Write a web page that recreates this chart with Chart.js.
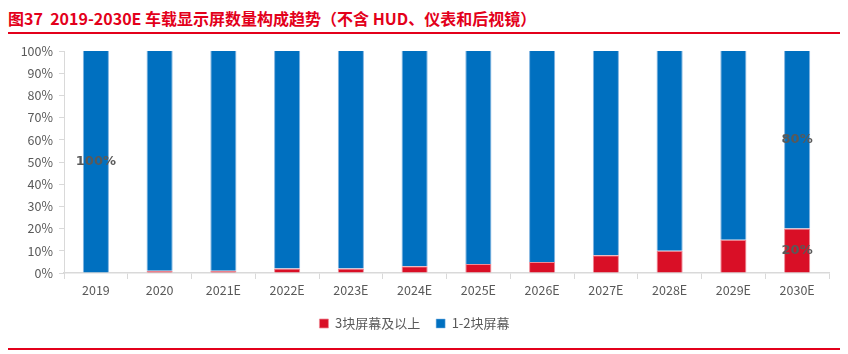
<!DOCTYPE html>
<html><head><meta charset="utf-8">
<script src="https://cdn.jsdelivr.net/npm/chart.js@4.4.0/dist/chart.umd.min.js"></script>
<style>
html,body{margin:0;padding:0;background:#fff;}
#wrap{position:relative;width:848px;height:354px;overflow:hidden;}
#title{position:absolute;left:8px;top:6px;font-family:"Noto Sans CJK SC","Liberation Sans",sans-serif;font-weight:bold;font-size:16px;color:#E3001B;white-space:nowrap;letter-spacing:0px;}
.rl{position:absolute;left:8px;width:832px;height:2px;background:#E3001B;}
canvas{position:absolute;left:0;top:0;}
</style></head><body>
<div id="wrap">
<div id="title">图37&nbsp; 2019-2030E 车载显示屏数量构成趋势（不含 HUD、仪表和后视镜）</div>
<div class="rl" style="top:32px;"></div>
<div class="rl" style="top:348px;"></div>
<canvas id="c" width="848" height="354"></canvas>
</div>
<script>
const categories = ["2019","2020","2021E","2022E","2023E","2024E","2025E","2026E","2027E","2028E","2029E","2030E"];
const share3plus = [0,1,1,2,2,3,4,5,8,10,15,20];
const share1to2 = [100,99,99,98,98,97,96,95,92,90,85,80];
const yTicks = [0,10,20,30,40,50,60,70,80,90,100];
const seriesNames = ["3块屏幕及以上","1-2块屏幕"];
// labels shown on chart: [datasetIndex, pointIndex]
const shownLabels = [[1,0],[1,11],[0,11]];

const font = "'Noto Sans CJK SC','Lato',sans-serif";
const gray = "#595959";
const axisCol = "#d9d9d9";

const labelPlugin = {
  id:'barLabels',
  afterDatasetsDraw(chart){
    const ctx = chart.ctx;
    ctx.save();
    ctx.font = "bold 13px 'DejaVu Sans', sans-serif";
    ctx.fillStyle = gray;
    ctx.textAlign = 'center';
    ctx.textBaseline = 'middle';
    shownLabels.forEach(([d,i])=>{
      const el = chart.getDatasetMeta(d).data[i];
      const v = chart.data.datasets[d].data[i];
      const y = (el.y + el.base)/2;
      ctx.fillText(v + '%', el.x, y);
    });
    ctx.restore();
  }
};

new Chart(document.getElementById('c'), {
  type:'bar',
  data:{
    labels:categories,
    datasets:[
      {label:seriesNames[0], data:share3plus, backgroundColor:'#D90F26', borderColor:'#EE8A96', borderWidth:{left:1,right:1,top:1,bottom:0}, barPercentage:0.82, categoryPercentage:0.5},
      {label:seriesNames[1], data:share1to2, backgroundColor:'#0070C0', borderColor:'#7FB3E0', borderWidth:{left:1,right:1,top:0,bottom:0}, barPercentage:0.82, categoryPercentage:0.5}
    ]
  },
  options:{
    responsive:false,
    animation:false,
    devicePixelRatio:1,
    layout:{padding:{left:0,right:19,top:51,bottom:14}},
    scales:{
      x:{
        stacked:true,
        grid:{display:true,drawOnChartArea:false,offset:true,color:axisCol,tickLength:6},
        border:{color:axisCol,width:1.5},
        ticks:{color:gray,font:{family:font,size:12.5},padding:4,maxRotation:0},
        afterFit(s){ s.height = 28; }
      },
      y:{
        stacked:true,min:0,max:100,
        afterBuildTicks(s){ s.ticks = yTicks.map(v=>({value:v})); },
        grid:{display:true,drawOnChartArea:false,color:axisCol,tickLength:5},
        border:{color:axisCol,width:1},
        ticks:{color:gray,font:{family:font,size:12.5},padding:6,callback:v=>v+'%'},
        afterFit(s){ s.width = 64; }
      }
    },
    plugins:{
      legend:{
        position:'bottom',
        labels:{color:gray,font:{family:font,size:13},boxWidth:9,boxHeight:9,padding:16,useBorderRadius:false}
      },
      tooltip:{enabled:false}
    }
  },
  plugins:[labelPlugin]
});
</script>
</body></html>
